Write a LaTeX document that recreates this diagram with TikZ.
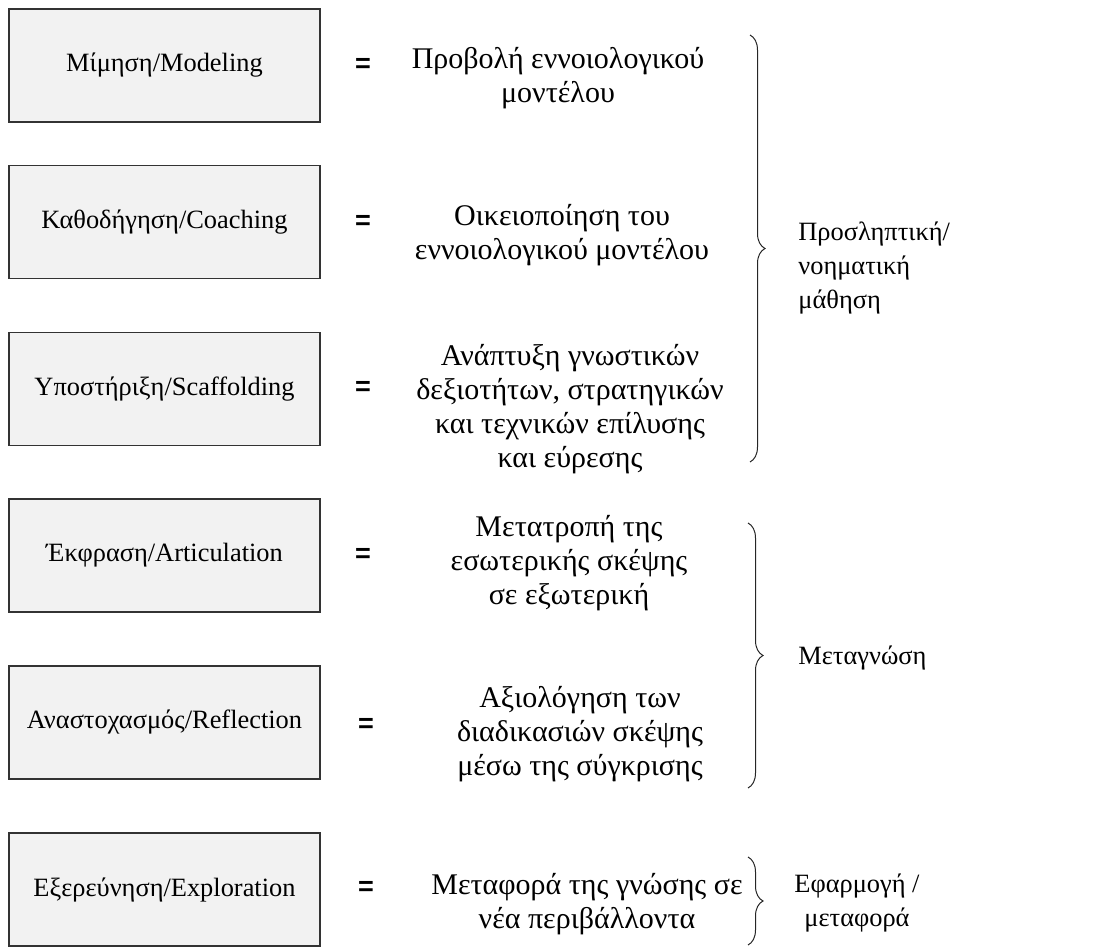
\documentclass[tikz,border=0pt]{standalone}
\usepackage{fontspec}
\setmainfont{Liberation Serif}
\setsansfont{Liberation Sans}
\usetikzlibrary{decorations.pathreplacing}
\begin{document}
\begin{tikzpicture}[x=0.5pt,y=-0.5pt,
  stage/.style={draw=black!80, fill=black!5, line width=0.6pt,
    minimum width=155.5pt, minimum height=56.5pt, inner sep=0pt,
    font=\fontsize{13.2}{17}\selectfont},
  equals/.style={fill=white, minimum width=24pt, minimum height=24pt,
    inner sep=0pt, font=\sffamily\bfseries\fontsize{13.5}{15}\selectfont},
  desc/.style={fill=white, align=center, inner sep=2pt,
    font=\fontsize{15}{17}\selectfont},
  group/.style={align=left, inner sep=0pt, anchor=west,
    font=\fontsize{13.2}{17}\selectfont},
  curly/.style={decorate, decoration={brace, amplitude=7.5pt, aspect=0.5},
    line width=0.5pt, draw=black!85}]

% page frame
\useasboundingbox (0,0) rectangle (1109,947);

% the six stages of the model
\node[stage] (s1) at (164.5,65.5)  {Μίμηση/Modeling};
\node[stage] (s2) at (164.5,222)   {Καθοδήγηση/Coaching};
\node[stage] (s3) at (164.5,389)   {Υποστήριξη/Scaffolding};
\node[stage] (s4) at (164.5,555.5) {Έκφραση/Articulation};
\node[stage] (s5) at (164.5,722.5) {Αναστοχασμός/Reflection};
\node[stage] (s6) at (164.5,889.5) {Εξερεύνηση/Exploration};

% equal signs
\node[equals] (e1) at (363,65)  {=};
\node[equals] (e2) at (363,222) {=};
\node[equals] (e3) at (363,388) {=};
\node[equals] (e4) at (363,555) {=};
\node[equals] (e5) at (366,725) {=};
\node[equals] (e6) at (366,888) {=};

% what each stage means
\node[desc] (d1) at (558,78)  {Προβολή εννοιολογικού\\μοντέλου};
\node[desc] (d2) at (562,235) {Οικειοποίηση του\\εννοιολογικού μοντέλου};
\node[desc] (d3) at (570,409) {Ανάπτυξη γνωστικών\\δεξιοτήτων, στρατηγικών\\και τεχνικών επίλυσης\\και εύρεσης};
\node[desc] (d4) at (569,563) {Μετατροπή της\\εσωτερικής σκέψης\\σε εξωτερική};
\node[desc] (d5) at (580,734) {Αξιολόγηση των\\διαδικασιών σκέψης\\μέσω της σύγκρισης};
\node[desc] (d6) at (587,904) {Μεταφορά της γνώσης σε\\νέα περιβάλλοντα};

% brace end points
\coordinate (b1t) at (750,35);
\coordinate (b1b) at (750,462);
\coordinate (b2t) at (748,523);
\coordinate (b2b) at (748,788);
\coordinate (b3t) at (748,857);
\coordinate (b3b) at (748,945);

% grouping braces
\draw[curly] (b1t) -- (b1b);
\draw[curly] (b2t) -- (b2b);
\draw[curly] (b3t) -- (b3b);

% group labels
\node[group] (g1) at (798,268) {Προσληπτική/\\νοηματική\\μάθηση};
\node[group] (g2) at (798,658) {Μεταγνώση};
\node[align=center, inner sep=0pt, font=\fontsize{13.2}{17}\selectfont]
  (g3) at (857,903) {Εφαρμογή /\\μεταφορά};
\end{tikzpicture}
\end{document}
